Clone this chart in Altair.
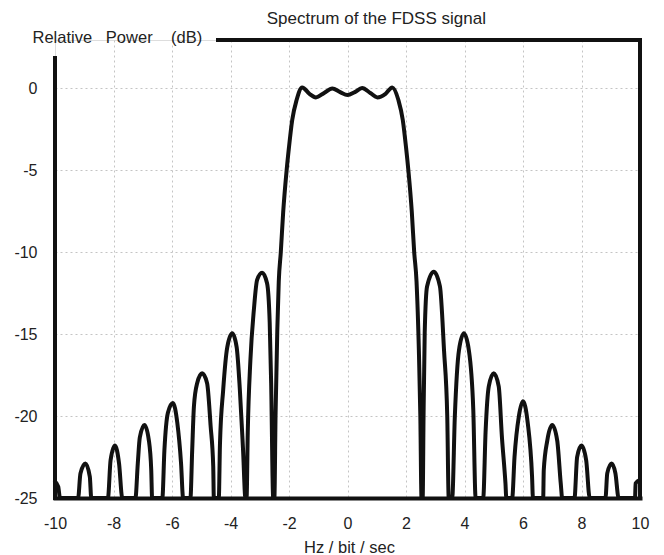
import altair as alt
import pandas as pd

# Spectrum curve (Hz/bit/sec, dB)
freq = [
    -10.0, -9.89, -9.83, -9.21, -9.13, -8.96, -8.81, -8.76,
    -8.19, -8.10, -7.95, -7.81, -7.70,
    -7.25, -7.17, -7.10, -6.94, -6.79, -6.71, -6.68,
    -6.33, -6.26, -6.14, -5.97, -5.82, -5.69, -5.62,
    -5.37, -5.31, -5.25, -5.14, -4.97, -4.80, -4.68, -4.59, -4.57,
    -4.40, -4.36, -4.25, -4.11, -3.94, -3.79, -3.68, -3.57, -3.49,
    -3.45, -3.41, -3.32, -3.20, -3.09, -2.92, -2.75, -2.66, -2.61, -2.54,
    -2.50, -2.46, -2.40, -2.35, -2.28, -2.20, -2.08, -2.00, -1.89, -1.74,
    -1.55, -1.30, -1.08, -0.80, -0.52, -0.25, 0.0, 0.25, 0.50, 0.78,
    1.02, 1.30, 1.53, 1.74, 1.89, 2.00, 2.08, 2.20, 2.28, 2.36, 2.44, 2.49, 2.53,
    2.57, 2.60, 2.64, 2.72, 2.95, 3.16, 3.30, 3.41, 3.46,
    3.58, 3.67, 3.81, 3.98, 4.15, 4.30, 4.38,
    4.64, 4.72, 4.83, 5.00, 5.17, 5.28, 5.40, 5.43,
    5.63, 5.71, 5.86, 6.00, 6.16, 6.31, 6.34,
    6.69, 6.71, 6.83, 7.00, 7.17, 7.29, 7.34,
    7.76, 7.85, 8.00, 8.16, 8.28,
    8.82, 8.88, 9.03, 9.16, 9.27,
    9.83, 9.85, 10.0,
]
power = [
    -24.0, -24.3, -25.0, -25.0, -23.5, -22.9, -23.7, -25.0,
    -25.0, -22.7, -21.8, -22.9, -25.0,
    -25.0, -22.9, -21.3, -20.55, -21.5, -23.3, -25.0,
    -25.0, -22.1, -19.8, -19.2, -20.4, -22.9, -25.0,
    -25.0, -22.1, -19.4, -18.0, -17.4, -18.0, -20.6, -23.1, -25.0,
    -25.0, -21.7, -18.4, -15.8, -14.96, -15.8, -18.4, -22.1, -25.0,
    -25.0, -21.0, -16.6, -13.5, -11.7, -11.26, -11.9, -14.3, -18.0, -25.0,
    -25.0, -20.0, -14.75, -11.8, -10.0, -7.6, -5.0, -3.6, -1.95, -0.73,
    0.04, -0.35, -0.57, -0.30, -0.02, -0.25, -0.43, -0.25, 0.0, -0.30,
    -0.57, -0.35, 0.04, -0.73, -1.95, -3.6, -5.0, -7.6, -10.0, -11.8, -16.0, -20.0, -25.0,
    -25.0, -20.0, -14.9, -12.1, -11.2, -12.1, -16.0, -20.0, -25.0,
    -25.0, -20.0, -16.0, -14.96, -16.0, -19.6, -25.0,
    -25.0, -21.0, -18.2, -17.4, -18.2, -21.3, -24.1, -25.0,
    -25.0, -22.5, -20.0, -19.1, -20.4, -23.7, -25.0,
    -25.0, -23.3, -21.5, -20.55, -21.5, -24.1, -25.0,
    -25.0, -22.5, -21.8, -22.7, -25.0,
    -25.0, -23.5, -22.9, -23.5, -25.0,
    -25.0, -24.1, -23.9,
]

x_ticks = [-10, -8, -6, -4, -2, 0, 2, 4, 6, 8, 10]
y_ticks = [0, -5, -10, -15, -20, -25]
x_min, x_max = -10, 10
y_min, y_max = -25, 2.93

chart_title = "Spectrum of the FDSS signal"
y_title = "Relative\u00a0\u00a0 Power\u00a0\u00a0\u00a0 (dB)"
x_title = "Hz / bit / sec"

FONT = "Liberation Sans"
INK = "#111111"
TXT = "#222222"
GRID = "#c4c4c4"
W, H = 585, 458

df = pd.DataFrame({"freq": freq, "power": power})
one = pd.DataFrame({"k": [0]})

x_scale = alt.Scale(domain=[x_min, x_max], nice=False, zero=False)
y_scale = alt.Scale(domain=[y_min, y_max], nice=False, zero=False)

line = alt.Chart(df).mark_line(
    color=INK, strokeWidth=4, interpolate="monotone", strokeJoin="round", strokeCap="round"
).encode(
    x=alt.X("freq:Q", scale=x_scale, axis=alt.Axis(
        values=x_ticks, title=x_title, grid=True, gridDash=[2, 3], gridColor=GRID,
        gridOpacity={"condition": {"test": "abs(datum.value) == 10", "value": 0}, "value": 1},
        ticks=False, domain=True, domainWidth=4, domainColor=INK, domainCap="square",
        labelExpr="'' + datum.value",
        labelPadding=17, labelFontSize=16, labelColor=TXT, labelFont=FONT, labelFlush=False,
        titleFontSize=16.5, titleFontWeight="normal", titleColor=TXT, titleFont=FONT,
        titleBaseline="alphabetic", titleY=54, titleX=294,
    )),
    y=alt.Y("power:Q", scale=y_scale, axis=alt.Axis(
        values=y_ticks, title=y_title, grid=True, gridDash=[2, 3], gridColor=GRID,
        gridOpacity={"condition": {"test": "datum.value == -25", "value": 0}, "value": 1},
        ticks=False, domain=False, labelPadding=18, labelFontSize=16, labelColor=TXT, labelFont=FONT,
        labelExpr="'' + datum.value",
        titleAngle=0, titleAlign="left", titleBaseline="alphabetic", titleX=-23, titleY=2,
        titleFontSize=16.5, titleFontWeight="normal", titleColor=TXT, titleFont=FONT,
    )),
)

frame_style = dict(color=INK, strokeWidth=4, strokeCap="square")

# frame pieces (decoration, in plot pixels)
left_rule = alt.Chart(one).mark_rule(**frame_style).encode(
    x=alt.value(0), y=alt.value(18), y2=alt.value(H)
)
right_rule = alt.Chart(one).mark_rule(**frame_style).encode(
    x=alt.value(W), y=alt.value(0), y2=alt.value(H)
)
top_rule = alt.Chart(one).mark_rule(**frame_style).encode(
    x=alt.value(163), x2=alt.value(W), y=alt.value(0)
)

title_text = alt.Chart(pd.DataFrame({"t": [chart_title]})).mark_text(
    align="left", baseline="alphabetic", fontSize=17, font=FONT, color=TXT
).encode(text="t:N", x=alt.value(211.7), y=alt.value(-16))

chart = alt.layer(line, left_rule, right_rule, top_rule, title_text).properties(
    width=W, height=H,
    autosize=alt.AutoSizeParams(type="none"),
    padding={"left": 47, "top": 32, "right": 16, "bottom": 57},
).configure_view(stroke=None).configure(font=FONT, background="white")

chart.save("out.html", embed_options={"renderer": "svg", "actions": False})
